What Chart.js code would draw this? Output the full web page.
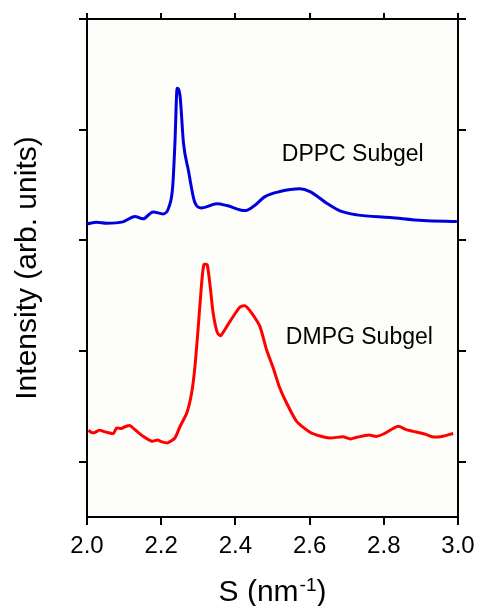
<!DOCTYPE html>
<html>
<head>
<meta charset="utf-8">
<script src="https://cdn.jsdelivr.net/npm/chart.js@4/dist/chart.umd.min.js"></script>
<style>
  html, body { margin: 0; padding: 0; background: #ffffff; }
  #wrap { width: 478px; height: 606px; }
</style>
</head>
<body>
<div id="wrap"><canvas id="c" width="478" height="606"></canvas></div>
<script>
// ---- data ----
const xTickValues = [2.0, 2.2, 2.4, 2.6, 2.8, 3.0];
const yTickValues = [0, 1, 2, 3, 4];

const dppcS = [2.000, 2.026, 2.053, 2.097, 2.129, 2.151, 2.178, 2.205, 2.221, 2.231, 2.237, 2.243, 2.251, 2.260, 2.273, 2.291, 2.309, 2.350, 2.377, 2.426, 2.448, 2.480, 2.520, 2.574, 2.601, 2.646, 2.682, 2.727, 2.817, 2.906, 2.997];
const dppcI = [2.149, 2.164, 2.155, 2.167, 2.215, 2.194, 2.257, 2.239, 2.302, 2.486, 2.880, 3.374, 3.298, 2.880, 2.637, 2.339, 2.293, 2.330, 2.314, 2.269, 2.305, 2.395, 2.441, 2.465, 2.441, 2.336, 2.266, 2.230, 2.206, 2.179, 2.170];

const dmpgS = [2.004, 2.013, 2.022, 2.033, 2.044, 2.058, 2.071, 2.080, 2.092, 2.104, 2.116, 2.129, 2.151, 2.175, 2.190, 2.202, 2.217, 2.237, 2.251, 2.269, 2.282, 2.291, 2.300, 2.309, 2.315, 2.324, 2.332, 2.340, 2.351, 2.360, 2.377, 2.394, 2.412, 2.426, 2.444, 2.466, 2.484, 2.502, 2.518, 2.538, 2.565, 2.601, 2.630, 2.655, 2.690, 2.710, 2.727, 2.760, 2.780, 2.799, 2.820, 2.839, 2.860, 2.880, 2.910, 2.933, 2.960, 2.987];
const dmpgI = [0.283, 0.262, 0.265, 0.285, 0.274, 0.262, 0.254, 0.305, 0.300, 0.318, 0.326, 0.290, 0.230, 0.185, 0.196, 0.179, 0.170, 0.214, 0.320, 0.440, 0.620, 0.861, 1.222, 1.614, 1.779, 1.779, 1.583, 1.343, 1.168, 1.138, 1.222, 1.312, 1.397, 1.409, 1.343, 1.222, 1.011, 0.846, 0.680, 0.530, 0.364, 0.265, 0.230, 0.214, 0.225, 0.205, 0.220, 0.240, 0.228, 0.250, 0.290, 0.319, 0.290, 0.274, 0.250, 0.223, 0.230, 0.255];

const seriesNames = ["DPPC Subgel", "DMPG Subgel"];
const xTitleMain = "S (nm";
const xTitleSup = "-1";
const xTitleEnd = ")";
const yTitle = "Intensity (arb. units)";

// ---- chart ----
const FONT = "'Liberation Sans', Arial, sans-serif";
const toPts = (xs, ys) => xs.map((x, i) => ({ x: x, y: ys[i] }));

const bgPlugin = {
  id: 'bg',
  beforeDraw(chart) {
    const { ctx, chartArea: a } = chart;
    ctx.save();
    ctx.fillStyle = '#fdfdf9';
    ctx.fillRect(a.left, a.top, a.right - a.left, a.bottom - a.top);
    ctx.restore();
  }
};

const labelPlugin = {
  id: 'labels',
  afterDatasetsDraw(chart, args, opts) {
    const { ctx } = chart;
    const xs = chart.scales.x, ys = chart.scales.y;
    ctx.save();
    ctx.fillStyle = '#000';
    ctx.font = '23px ' + FONT;
    ctx.textAlign = 'left';
    ctx.textBaseline = 'alphabetic';
    opts.items.forEach(it => {
      ctx.fillText(it.text, xs.getPixelForValue(it.x), ys.getPixelForValue(it.y));
    });
    // x axis title with superscript
    const big = '30px ' + FONT, small = '19px ' + FONT;
    ctx.font = big; const w1 = ctx.measureText(xTitleMain).width;
    const w3 = ctx.measureText(xTitleEnd).width;
    ctx.font = small; const w2 = ctx.measureText(xTitleSup).width;
    const total = w1 + w2 + w3 + 1;
    const cx = (chart.chartArea.left + chart.chartArea.right) / 2;
    let x0 = cx - total / 2;
    const base = 601;
    ctx.font = big; ctx.fillText(xTitleMain, x0, base);
    ctx.font = small; ctx.fillText(xTitleSup, x0 + w1 + 1, base - 10);
    ctx.font = big; ctx.fillText(xTitleEnd, x0 + w1 + w2 + 1, base);
    ctx.restore();
  }
};

const gridCommon = { drawOnChartArea: false, color: '#000', lineWidth: 2, tickLength: 8 };
const borderCommon = { color: '#000', width: 2 };
const noPadX = (h) => s => { s.height = h; s.paddingLeft = 0; s.paddingRight = 0; };
const noPadY = (w) => s => { s.width = w; s.paddingTop = 0; s.paddingBottom = 0; };

new Chart(document.getElementById('c'), {
  type: 'line',
  data: {
    datasets: [
      { label: seriesNames[0], data: toPts(dppcS, dppcI), borderColor: '#0000dd', borderWidth: 3,
        pointRadius: 0, cubicInterpolationMode: 'monotone', fill: false },
      { label: seriesNames[1], data: toPts(dmpgS, dmpgI), borderColor: '#ff0000', borderWidth: 3,
        pointRadius: 0, tension: 0.2, fill: false }
    ]
  },
  options: {
    responsive: false,
    animation: false,
    events: [],
    layout: { padding: 0 },
    plugins: {
      legend: { display: false },
      tooltip: { enabled: false },
      labels: { items: [
        { text: seriesNames[0], x: 2.525, y: 2.718 },
        { text: seriesNames[1], x: 2.536, y: 1.065 }
      ] }
    },
    scales: {
      x: {
        type: 'linear', position: 'bottom', min: 2, max: 3,
        afterBuildTicks: s => { s.ticks = xTickValues.map(v => ({ value: v })); },
        afterFit: noPadX(89),
        grid: gridCommon, border: borderCommon,
        ticks: { color: '#000', font: { family: FONT, size: 24 }, padding: 7, maxRotation: 0,
                 callback: v => Number(v).toFixed(1) }
      },
      x2: {
        type: 'linear', position: 'top', min: 2, max: 3,
        afterBuildTicks: s => { s.ticks = xTickValues.map(v => ({ value: v })); },
        afterFit: noPadX(19),
        grid: Object.assign({}, gridCommon, { tickLength: 6 }), border: borderCommon,
        ticks: { display: false }
      },
      y: {
        type: 'linear', position: 'left', min: -0.5, max: 4,
        afterBuildTicks: s => { s.ticks = yTickValues.map(v => ({ value: v })); },
        afterFit: noPadY(87),
        grid: gridCommon, border: borderCommon,
        ticks: { display: false },
        title: { display: true, text: yTitle, color: '#000', font: { family: FONT, size: 30 },
                 padding: { top: 10, bottom: 0 } }
      },
      y2: {
        type: 'linear', position: 'right', min: -0.5, max: 4,
        afterBuildTicks: s => { s.ticks = yTickValues.map(v => ({ value: v })); },
        afterFit: noPadY(20),
        grid: gridCommon, border: borderCommon,
        ticks: { display: false }
      }
    }
  },
  plugins: [bgPlugin, labelPlugin]
});
</script>
</body>
</html>
